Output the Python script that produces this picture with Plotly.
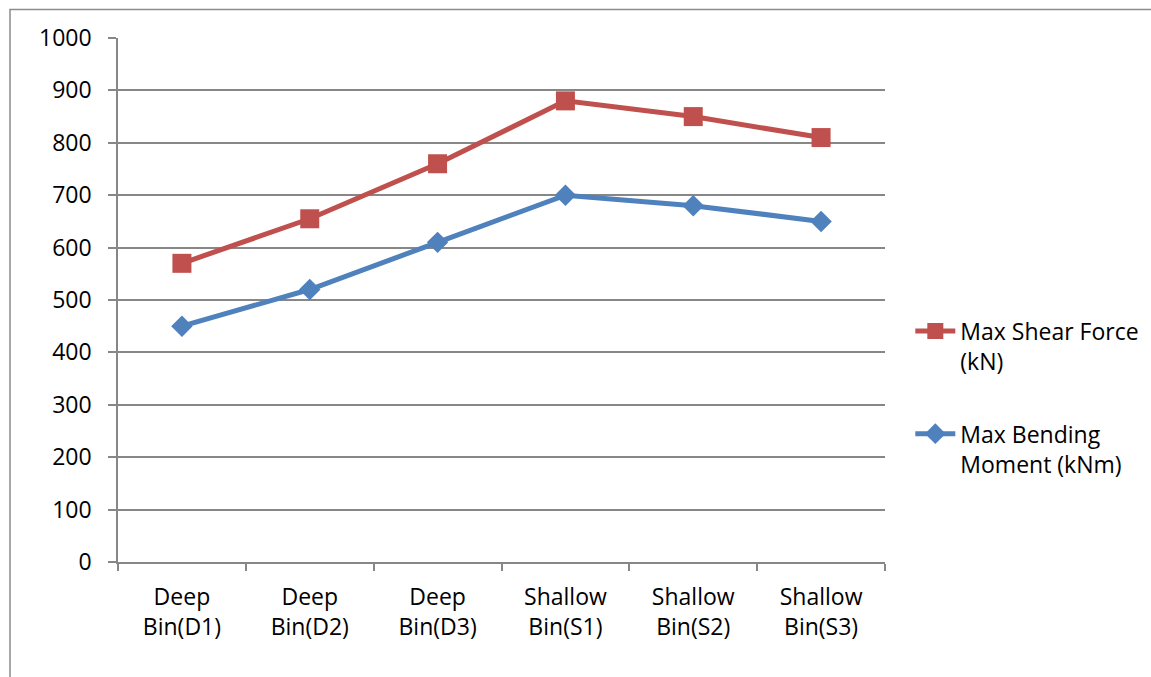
import plotly.graph_objects as go

# Bin types along the x axis
categories = ["Deep<br>Bin(D1)", "Deep<br>Bin(D2)", "Deep<br>Bin(D3)",
              "Shallow<br>Bin(S1)", "Shallow<br>Bin(S2)", "Shallow<br>Bin(S3)"]

# Series values
shear_force = [570, 655, 760, 880, 850, 810]      # kN
bending_moment = [450, 520, 610, 700, 680, 650]   # kNm

y_ticks = [0, 100, 200, 300, 400, 500, 600, 700, 800, 900, 1000]

FONT = "Open Sans"
FS = 23
GRID = "#878787"

fig = go.Figure()
fig.add_trace(go.Scatter(
    x=categories, y=shear_force, mode="lines+markers",
    name="Max Shear Force<br>(kN)", legendgroup="shear",
    line=dict(color="#C0504D", width=5),
    marker=dict(symbol="square", size=19, color="#C0504D"),
))
fig.add_trace(go.Scatter(
    x=categories, y=bending_moment, mode="lines+markers",
    name="Max Bending<br>Moment (kNm)", legendgroup="moment",
    line=dict(color="#4F81BD", width=5),
    marker=dict(symbol="diamond", size=16.5, color="#4F81BD"),
))

fig.update_layout(
    width=1151, height=677,
    paper_bgcolor="white", plot_bgcolor="white",
    margin=dict(l=118, r=266, t=38, b=115, autoexpand=False),
    font=dict(family=FONT, size=FS, color="black"),
    showlegend=True,
    legend=dict(
        x=1.033, xanchor="left", y=0.482, yanchor="top",
        valign="top", font=dict(size=FS, family=FONT),
        tracegroupgap=40, itemwidth=40,
        bgcolor="rgba(0,0,0,0)",
    ),
    shapes=[dict(
        type="rect", xref="paper", yref="paper",
        x0=-108 / 767, x1=(1160 - 118) / 767,
        y0=-(677 + 10 - 562) / 524, y1=(562 - 9.5) / 524,
        line=dict(color="#8c8c8c", width=1.5), fillcolor="rgba(0,0,0,0)",
        layer="below",
    )],
)

fig.update_xaxes(
    type="category", range=[-0.5, 5.5], showline=True, linecolor=GRID,
    linewidth=1.5, ticks="outside", tickson="boundaries", ticklen=7,
    tickcolor=GRID, tickwidth=1.5, showgrid=False, ticklabelstandoff=14,
    tickfont=dict(size=FS, family=FONT),
)
fig.update_yaxes(
    range=[0, 1000], tickvals=y_ticks, showline=True, linecolor=GRID,
    linewidth=1.5, ticks="outside", ticklen=8, tickcolor=GRID, tickwidth=1.5,
    showgrid=True, gridcolor=GRID, gridwidth=1.5, zeroline=False,
    ticklabelstandoff=12, tickfont=dict(size=FS, family=FONT),
)

fig.write_html("out.html")
